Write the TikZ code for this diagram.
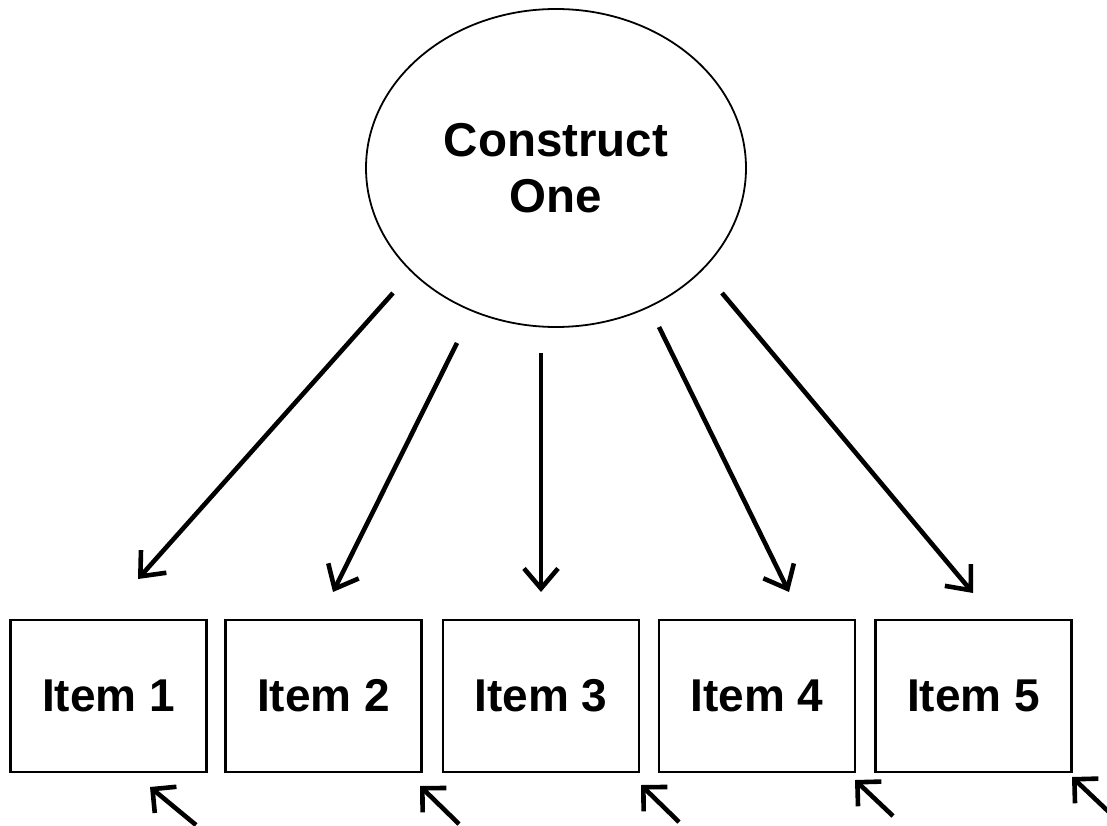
\documentclass[tikz,border=0pt]{standalone}
\usepackage{fontspec}
\setmainfont{Liberation Sans}
\usetikzlibrary{arrows.meta,shapes.geometric}
\begin{document}
\begin{tikzpicture}[x=1pt,y=-1pt,
  itembox/.style={draw, line width=2.5pt, minimum width=196pt, minimum height=152pt, inner sep=0pt, font=\fontsize{46}{56}\selectfont\bfseries},
  construct/.style={draw, line width=1.8pt, ellipse, minimum width=380pt, minimum height=318pt, inner sep=0pt, align=center, font=\fontsize{47.5}{56}\selectfont\bfseries},
  load/.style={line width=4.6pt, -{Straight Barb[length=20pt,width=34pt]}},
  err/.style={line width=4.6pt, -{Straight Barb[length=17pt,width=34pt]}}
]
\useasboundingbox (0,0) rectangle (1107,826);
\node[construct] (c) at (556,168) {Construct\\One};
\node[itembox] (i1) at (108.5,696) {Item 1};
\node[itembox] (i2) at (323.5,696) {Item 2};
\node[itembox] (i3) at (541,696) {Item 3};
\node[itembox] (i4) at (757,696) {Item 4};
\node[itembox] (i5) at (973.5,696) {Item 5};
% loading arrow ends
\coordinate (s1) at (393,293); \coordinate (t1) at (138,579);
\coordinate (s2) at (457,343); \coordinate (t2) at (333,592);
\coordinate (s3) at (541,353); \coordinate (t3) at (541,592);
\coordinate (s4) at (659,327); \coordinate (t4) at (789,592);
\coordinate (s5) at (722,293); \coordinate (t5) at (973,593);
\draw[load] (s1) -- (t1);
\draw[load] (s2) -- (t2);
\draw[load] (s3) -- (t3);
\draw[load] (s4) -- (t4);
\draw[load] (s5) -- (t5);
% error arrows
\coordinate (e1) at (196,825); \coordinate (f1) at (150,787);
\coordinate (e2) at (459,824); \coordinate (f2) at (420,786);
\coordinate (e3) at (679,822); \coordinate (f3) at (641,785);
\coordinate (e4) at (893,816); \coordinate (f4) at (855,780);
\coordinate (e5) at (1111,814); \coordinate (f5) at (1072,777);
\draw[err] (e1) -- (f1);
\draw[err] (e2) -- (f2);
\draw[err] (e3) -- (f3);
\draw[err] (e4) -- (f4);
\draw[err] (e5) -- (f5);
\end{tikzpicture}
\end{document}
